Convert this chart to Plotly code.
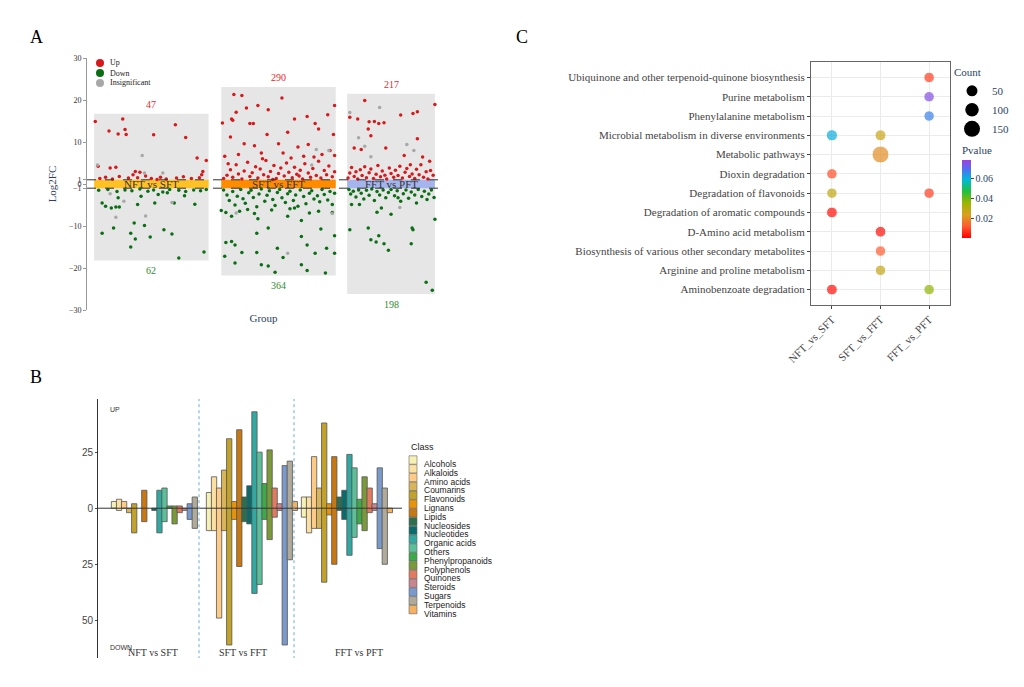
import plotly.graph_objects as go

# ---------------- Panel A: volcano-like groups ----------------
groups = ['NFT vs SFT', 'SFT vs FFT', 'FFT vs PFT']
n_up = [47, 290, 217]
n_down = [62, 364, 198]
box_left = [0.56, 1.56, 2.55]
box_right = [1.46, 2.46, 3.24]
box_top = [16.7, 23.1, 21.5]
box_bottom = [-18.2, -21.8, -26.2]
band_colors = ['#FFC125', '#FF8C00', '#A4B4EC']

# points as [fraction across box, log2FC]
up1 = [[0.01, 14.9], [0.035, 4.2], [0.13, 12.6], [0.21, 11.9], [0.25, 15.5], [0.27, 13], [0.28, 11.8],
       [0.14, 3.8], [0.19, 4], [0.36, 3], [0.34, 2.2], [0.52, 11.7], [0.71, 14.1], [0.8, 11.1], [0.9, 6.2],
       [0.98, 5.6], [0.95, 3], [0.94, 2.2], [0.05, 1.3], [0.1, 1.6], [0.16, 1.2], [0.22, 1.8], [0.3, 1.4],
       [0.38, 1.5], [0.45, 1.9], [0.5, 1.3], [0.58, 1.6], [0.63, 1.2], [0.72, 1.4], [0.78, 1.7], [0.85, 1.3],
       [0.92, 1.5], [0.4, 2.8], [0.55, 1.1]]
down1 = [[0.07, -4.5], [0.1, -5.3], [0.15, -5.7], [0.19, -5.5], [0.22, -5.5], [0.07, -11.7], [0.17, -10.5],
         [0.32, -11.7], [0.35, -9.3], [0.36, -13.1], [0.32, -15], [0.44, -9.9], [0.49, -12.6], [0.61, -10.9],
         [0.68, -11.9], [0.74, -17.6], [0.96, -16.2], [0.38, -4.9], [0.53, -4.5], [0.7, -4.5], [0.88, -4.8],
         [0.41, -2.9], [0.56, -2.5], [0.64, -2.1], [0.79, -2.8], [0.21, -3.3], [0.04, -1.5], [0.12, -1.3],
         [0.2, -1.8], [0.27, -1.4], [0.33, -1.6], [0.4, -1.2], [0.47, -1.7], [0.52, -1.4], [0.6, -1.9],
         [0.66, -1.3], [0.74, -1.5], [0.8, -1.8], [0.87, -1.4], [0.93, -1.6], [0.98, -1.3]]
ins1 = [[0.42, 6.8], [0.19, -7.9], [0.45, -7.6], [0.26, -4.1], [0.03, 4.5], [0.44, 2.6], [0.68, -4.4],
        [0.6, 2.6], [0.14, -2.3]]

up2 = [[0.11, 21.3], [0.18, 21.1], [0.53, 20.5], [0.99, 18.7], [0.32, 18.7], [0.41, 17.7], [0.22, 18.1],
       [0.13, 17.1], [0.09, 15.5], [0.01, 14.5], [0.1, 15.2], [0.25, 14.4], [0.28, 14.4], [0.64, 15.5],
       [0.75, 16.1], [0.82, 14.4], [0.93, 16.5], [0.85, 13.1], [0.58, 12.3], [0.4, 11.8], [0.08, 11.2],
       [0.98, 11.8], [0.2, 9.6], [0.29, 9.1], [0.5, 9.6], [0.67, 8.8], [0.76, 9.4], [0.95, 8], [0.03, 6.6],
       [0.15, 7], [0.35, 7.4], [0.54, 7.4], [0.72, 6.6], [0.88, 7], [0.99, 6.8],
       [0.02, 1.3], [0.05, 2.1], [0.08, 3.4], [0.1, 1.6], [0.13, 4.6], [0.15, 2.4], [0.18, 1.2], [0.2, 3.1],
       [0.23, 5.2], [0.25, 1.8], [0.27, 2.7], [0.3, 4.1], [0.32, 1.4], [0.34, 3.6], [0.37, 2.2], [0.39, 5.6],
       [0.41, 1.7], [0.43, 3], [0.46, 4.4], [0.48, 1.3], [0.5, 2.5], [0.52, 3.8], [0.55, 1.9], [0.57, 5],
       [0.59, 2.8], [0.62, 1.5], [0.64, 4], [0.66, 2.3], [0.69, 3.3], [0.71, 1.2], [0.73, 4.8], [0.76, 2.6],
       [0.78, 1.6], [0.8, 3.7], [0.83, 2], [0.85, 5.4], [0.87, 1.4], [0.9, 3.2], [0.92, 2.2], [0.94, 4.3],
       [0.97, 1.7], [0.99, 2.9], [0.06, 4.8], [0.36, 6], [0.61, 6.2], [0.81, 6.4], [0.45, 1.1], [0.68, 1.9]]
down2 = [[0.0, -6.3], [0.04, -6.8], [0.09, -7.7], [0.32, -8.3], [0.41, -10.5], [0.31, -11.7], [0.04, -13.9],
         [0.09, -13.7], [0.12, -14.5], [0.18, -16.3], [0.31, -16.3], [0.03, -17.2], [0.12, -18.8], [0.35, -19.2],
         [0.41, -19.5], [0.47, -21], [0.54, -17.5], [0.49, -15.3], [0.7, -12.5], [0.75, -14.5], [0.82, -16.5],
         [0.7, -19.2], [0.75, -20.6], [0.91, -21.2], [0.92, -15.3], [0.99, -12.3], [0.99, -16.5], [0.87, -10.7],
         [0.7, -8.7], [0.58, -7.7], [0.23, -6.1], [0.64, -5.7], [0.85, -6.5], [0.97, -6.8],
         [0.02, -1.4], [0.05, -2.6], [0.07, -3.9], [0.1, -1.8], [0.12, -5], [0.14, -2.9], [0.17, -1.3],
         [0.19, -3.5], [0.21, -4.6], [0.24, -2.1], [0.26, -1.5], [0.28, -3.2], [0.31, -5.4], [0.33, -2.4],
         [0.35, -1.2], [0.38, -4.1], [0.4, -2.7], [0.42, -1.6], [0.45, -3.7], [0.47, -5.1], [0.49, -2],
         [0.51, -1.3], [0.53, -3.3], [0.56, -4.4], [0.58, -2.3], [0.6, -1.7], [0.63, -3.9], [0.65, -2.6],
         [0.67, -5.3], [0.69, -1.4], [0.72, -3], [0.74, -4.7], [0.77, -2.2], [0.79, -1.6], [0.81, -3.6],
         [0.84, -2.8], [0.86, -4.2], [0.88, -1.3], [0.9, -2.5], [0.93, -3.8], [0.95, -1.8], [0.97, -4.9],
         [0.99, -2.2], [0.16, -6.5], [0.44, -6.2], [0.77, -6.9], [0.29, -7], [0.6, -5.9]]
ins2 = [[0.13, -6.9], [0.58, -16.5], [0.83, 8.2], [0.94, 8], [0.79, 4.5], [0.97, -7]]

up3 = [[0.2, 19.9], [0.03, 15.9], [0.12, 15.5], [0.25, 14.8], [0.31, 14.9], [0.36, 14.4], [0.42, 14.6],
       [0.24, 13.1], [0.27, 11.5], [0.08, 8.6], [0.16, 8.2], [0.44, 8.6], [0.61, 16.4], [0.75, 16.8],
       [0.8, 17.2], [1.0, 18.9], [0.8, 10.8], [0.65, 6.8], [0.86, 6.4], [0.94, 5.4], [0.72, 4.6],
       [0.01, 1.4], [0.03, 2.6], [0.05, 3.9], [0.08, 1.8], [0.1, 2.9], [0.12, 1.2], [0.15, 3.4], [0.17, 2],
       [0.2, 4.1], [0.22, 1.5], [0.25, 2.7], [0.27, 3.6], [0.3, 1.3], [0.33, 2.3], [0.35, 4.4], [0.38, 1.7],
       [0.4, 3.1], [0.43, 2.1], [0.45, 1.2], [0.48, 3.8], [0.5, 2.5], [0.53, 1.6], [0.55, 3.3], [0.58, 2],
       [0.6, 4.2], [0.63, 1.4], [0.66, 2.8], [0.68, 3.7], [0.71, 1.8], [0.74, 2.4], [0.77, 1.3], [0.79, 3.5],
       [0.82, 2.2], [0.84, 4.6], [0.87, 1.6], [0.9, 2.9], [0.92, 1.2], [0.95, 3.2], [0.98, 2.1]]
down3 = [[0.05, -4.9], [0.14, -4.9], [0.34, -6.7], [0.39, -5.7], [0.5, -7.2], [0.03, -10.9], [0.24, -10.5],
         [0.27, -13.3], [0.33, -13.8], [0.36, -12.3], [0.42, -14.2], [0.47, -15.8], [0.74, -10.5],
         [0.75, -10.9], [0.73, -14.2], [1.0, -8.4], [0.58, -3.3], [0.79, -4.5], [0.91, -3.7], [0.9, -23.4],
         [0.97, -25.3], [0.02, -1.3], [0.04, -2.4], [0.07, -1.7], [0.1, -3.1], [0.13, -1.4], [0.16, -2.2],
         [0.19, -3.6], [0.22, -1.5], [0.25, -2.7], [0.28, -1.2], [0.31, -3.9], [0.34, -1.8], [0.37, -2.6],
         [0.41, -1.4], [0.44, -3.3], [0.47, -2], [0.5, -1.3], [0.54, -2.8], [0.57, -1.6], [0.61, -4.1],
         [0.64, -2.3], [0.67, -1.4], [0.7, -3.4], [0.73, -1.9], [0.77, -2.6], [0.81, -1.3], [0.85, -3],
         [0.88, -1.7], [0.93, -2.4], [0.96, -1.4], [0.99, -3.2]]
ins3 = [[0.03, 17], [0.37, 18.2], [0.13, 11], [0.2, 9], [0.27, 6.5], [0.68, 9.4], [0.6, -5.6], [0.76, 8]]

up_pts = [up1, up2, up3]
down_pts = [down1, down2, down3]
ins_pts = [ins1, ins2, ins3]

# ---------------- Panel B: class bars ----------------
classes = ['Alcohols', 'Alkaloids', 'Amino acids', 'Coumarins', 'Flavonoids', 'Lignans', 'Lipids',
           'Nucleosides', 'Nucleotides', 'Organic acids', 'Others', 'Phenylpropanoids', 'Polyphenols',
           'Quinones', 'Steroids', 'Sugars', 'Terpenoids', 'Vitamins']
class_colors = ['#F7F0B5', '#FBE0A2', '#FDCB85', '#D8B45A', '#C2A22A', '#E8940A', '#C87812',
                '#2E6E4E', '#0B6B6B', '#33A8A0', '#5DBE9A', '#3EA84A', '#7A9A3A', '#E07A60',
                '#C9848E', '#7A9ACC', '#AFAA9A', '#F5B060']
class_up = [
    [3, 4, 3, 0, 2, 0, 8, 0, 0, 8, 9, 1, 1, 1, 0, 2, 5, 0],
    [7, 14, 9, 17, 31, 3, 35, 5, 10, 43, 25, 11, 26, 9, 2, 19, 21, 3],
    [5, 5, 23, 9, 38, 2, 23, 5, 8, 24, 18, 4, 14, 9, 2, 18, 9, 0],
]
class_down = [
    [0, 1, 0, 2, 11, 0, 6, 0, 1, 11, 6, 0, 7, 2, 1, 5, 9, 0],
    [10, 10, 49, 10, 61, 5, 26, 6, 7, 38, 34, 5, 14, 4, 1, 61, 23, 1],
    [4, 11, 9, 9, 33, 3, 25, 1, 5, 21, 13, 7, 10, 2, 1, 18, 25, 2],
]

# ---------------- Panel C: KEGG bubbles ----------------
pathways = ['Ubiquinone and other terpenoid-quinone biosynthesis', 'Purine metabolism',
            'Phenylalanine metabolism', 'Microbial metabolism in diverse environments',
            'Metabolic pathways', 'Dioxin degradation', 'Degradation of flavonoids',
            'Degradation of aromatic compounds', 'D-Amino acid metabolism',
            'Biosynthesis of various other secondary metabolites', 'Arginine and proline metabolism',
            'Aminobenzoate degradation']
comparisons = ['NFT_vs_SFT', 'SFT_vs_FFT', 'FFT_vs_PFT']
kegg_path = ['Ubiquinone and other terpenoid-quinone biosynthesis', 'Purine metabolism',
             'Phenylalanine metabolism', 'Microbial metabolism in diverse environments',
             'Microbial metabolism in diverse environments', 'Metabolic pathways', 'Dioxin degradation',
             'Degradation of flavonoids', 'Degradation of flavonoids', 'Degradation of aromatic compounds',
             'D-Amino acid metabolism', 'Biosynthesis of various other secondary metabolites',
             'Arginine and proline metabolism', 'Aminobenzoate degradation', 'Aminobenzoate degradation']
kegg_comp = ['FFT_vs_PFT', 'FFT_vs_PFT', 'FFT_vs_PFT', 'NFT_vs_SFT', 'SFT_vs_FFT', 'SFT_vs_FFT',
             'NFT_vs_SFT', 'NFT_vs_SFT', 'FFT_vs_PFT', 'NFT_vs_SFT', 'SFT_vs_FFT', 'SFT_vs_FFT',
             'SFT_vs_FFT', 'NFT_vs_SFT', 'FFT_vs_PFT']
kegg_count = [40, 40, 40, 55, 50, 170, 40, 40, 40, 45, 45, 40, 40, 45, 40]
kegg_p = [0.008, 0.075, 0.066, 0.060, 0.026, 0.020, 0.010, 0.028, 0.008, 0.002, 0.002, 0.012,
          0.027, 0.002, 0.036]
legend_counts = [50, 100, 150]

serif = 'Liberation Serif'
sans = 'Liberation Sans'
# the page adds an 8px body margin; size the figure to fit inside the window
OFF = 8
W, H = 1024 - 2 * OFF, 687 - 2 * OFF


def bubble_size(c):
    return 8.5 + c * 0.05


def px(x):
    return (x - OFF) / W


def py(y):
    return 1 - (y - OFF) / H


fig = go.Figure()
shapes = []
annos = []

# ---- A ----
for g in range(3):
    shapes.append(dict(type='rect', xref='x', yref='y', x0=box_left[g], x1=box_right[g],
                       y0=box_bottom[g], y1=box_top[g], fillcolor='#E6E6E6', line_width=0, layer='below'))
    shapes.append(dict(type='rect', xref='x', yref='y', x0=box_left[g], x1=box_right[g],
                       y0=-1, y1=1, fillcolor=band_colors[g], line_width=0, layer='below'))
    cx = (box_left[g] + box_right[g]) / 2
    annos.append(dict(x=cx, y=0, xref='x', yref='y', text=groups[g], showarrow=False,
                      font=dict(family=serif, size=11, color='#333')))
    annos.append(dict(x=cx, y=box_top[g], xref='x', yref='y', text=str(n_up[g]), showarrow=False,
                      yshift=9, font=dict(family=serif, size=10, color='#E8292B')))
    annos.append(dict(x=cx, y=box_bottom[g], xref='x', yref='y', text=str(n_down[g]), showarrow=False,
                      yshift=-10, font=dict(family=serif, size=10, color='#2E8B2E')))

status = [('Up', up_pts, '#D7191C'), ('Down', down_pts, '#0A6E14'), ('Insignificant', ins_pts, '#A8A8A8')]
for k, (name, pts, col) in enumerate(status):
    xs, ys = [], []
    for g in range(3):
        for f, v in pts[g]:
            xs.append(box_left[g] + f * (box_right[g] - box_left[g]))
            ys.append(v)
    fig.add_trace(go.Scatter(x=xs, y=ys, mode='markers', name=name, xaxis='x', yaxis='y',
                             showlegend=False, marker=dict(size=3.5, color=col)))
    # manual legend key
    ly = 63 + k * 10
    shapes.append(dict(type='circle', xref='paper', yref='paper', x0=px(96), x1=px(104),
                       y0=py(ly + 4), y1=py(ly - 4), fillcolor=col, line_width=0))
    annos.append(dict(x=px(108), y=py(ly), xref='paper', yref='paper', text=name, showarrow=False,
                      xanchor='left', yanchor='middle', font=dict(family=serif, size=8, color='#222')))

for yv in [-1, 1]:
    shapes.append(dict(type='line', xref='x', yref='y', x0=0.504, x1=3.28, y0=yv, y1=yv,
                       line=dict(color='#333', width=1, dash='dash')))

# ---- B ----
bar_start = 114
group_step = 95
class_step = 5.05
for i, cls in enumerate(classes):
    xs, bases, heights = [], [], []
    for g in range(3):
        if class_up[g][i] == 0 and class_down[g][i] == 0:
            continue
        xs.append(bar_start + g * group_step + i * class_step)
        bases.append(-class_down[g][i])
        heights.append(class_up[g][i] + class_down[g][i])
    fig.add_trace(go.Bar(x=xs, y=heights, base=bases, width=5.3, name=cls, xaxis='x2', yaxis='y2',
                         showlegend=False,
                         marker=dict(color=class_colors[i], line=dict(color='#555', width=0.8))))
    # manual legend key
    ly = 460 + i * 8.8
    shapes.append(dict(type='rect', xref='paper', yref='paper', x0=px(409), x1=px(417),
                       y0=py(ly + 4.2), y1=py(ly - 4.2), fillcolor=class_colors[i],
                       line=dict(color='#666', width=0.6)))
    annos.append(dict(x=px(423), y=py(ly), xref='paper', yref='paper', text=cls, showarrow=False,
                      xanchor='left', yanchor='middle', yshift=-4, borderpad=0,
                      font=dict(family=sans, size=8.5, color='#222')))
annos.append(dict(x=px(409), y=py(447), xref='paper', yref='paper', text='Class', showarrow=False,
                  xanchor='left', font=dict(family=sans, size=9, color='#222')))

shapes.append(dict(type='line', xref='x2', yref='y2', x0=98, x1=402, y0=0, y1=0,
                   line=dict(color='#333', width=1)))
for g in [1, 2]:
    xd = bar_start + g * group_step - 10
    shapes.append(dict(type='line', xref='x2', yref='y2', x0=xd, x1=xd, y0=-70, y1=48.7,
                       line=dict(color='#6BAED6', width=1, dash='dot')))
for xc, lab in zip([153, 243, 359], groups):
    annos.append(dict(x=xc, y=py(660), xref='x2', yref='paper', text=lab, showarrow=False,
                      font=dict(family=serif, size=10, color='#333')))
annos.append(dict(x=108, y=44, xref='x2', yref='y2', text='UP', showarrow=False, xanchor='left',
                  font=dict(family=sans, size=7, color='#333')))
annos.append(dict(x=108, y=-62, xref='x2', yref='y2', text='DOWN', showarrow=False, xanchor='left',
                  font=dict(family=sans, size=7, color='#333')))

# ---- C ----
fig.add_trace(go.Scatter(x=kegg_comp, y=kegg_path, mode='markers', xaxis='x3', yaxis='y3',
                         showlegend=False,
                         marker=dict(size=[bubble_size(c) for c in kegg_count], color=kegg_p,
                                     cmin=0, cmax=0.078,
                                     colorscale=[[0, '#FF0000'], [0.15, '#FF5A30'], [0.3, '#D8A020'],
                                                 [0.45, '#9CB400'], [0.6, '#20C040'], [0.75, '#00B8D8'],
                                                 [0.88, '#5070F0'], [1, '#A040E0']],
                                     colorbar=dict(title=dict(text='Pvalue', font=dict(family=serif, size=11)),
                                                   x=px(952), xanchor='left', y=py(143), yanchor='top',
                                                   len=95, lenmode='pixels', thickness=9,
                                                   tickvals=[0.02, 0.04, 0.06], ticks='outside', ticklen=3,
                                                   tickfont=dict(family=serif, size=10), outlinewidth=0,
                                                   ypad=0))))
for c in legend_counts:
    fig.add_trace(go.Scatter(x=[None], y=[None], mode='markers', name=str(c), legend='legend',
                             xaxis='x3', yaxis='y3', marker=dict(size=bubble_size(c), color='black')))

for lab, xp, yp in [('A', 28, 25), ('B', 28, 377), ('C', 522, 25)]:
    annos.append(dict(x=px(xp), y=py(yp), xref='paper', yref='paper', text=lab, showarrow=False,
                      font=dict(family=serif, size=18, color='black')))

fig.update_layout(
    width=W, height=H, plot_bgcolor='white', paper_bgcolor='white',
    margin=dict(l=0, r=0, t=0, b=0, autoexpand=False), barmode='overlay', shapes=shapes, annotations=annos,
    xaxis=dict(domain=[px(87), px(440)], anchor='y', range=[0.504, 3.28], showticklabels=False,
               showgrid=False, zeroline=False, automargin=False,
               title=dict(text='Group', font=dict(family=serif, size=11), standoff=4)),
    yaxis=dict(domain=[py(310), py(58)], anchor='x', range=[-30, 30], automargin=False,
               tickvals=[-30, -20, -10, -1, 0, 1, 10, 20, 30],
               showgrid=False, zeroline=False, showline=True, linecolor='#999', ticks='outside', ticklen=3,
               tickcolor='#999', tickfont=dict(family=serif, size=8, color='#333'),
               title=dict(text='Log2FC', font=dict(family=serif, size=11), standoff=10)),
    xaxis2=dict(domain=[px(98), px(402)], anchor='y2', range=[98, 402], showticklabels=False,
                showgrid=False, zeroline=False, automargin=False),
    yaxis2=dict(domain=[py(658), py(399)], anchor='x2', range=[-66.8, 48.7], tickvals=[-50, -25, 0, 25],
                ticktext=['50', '25', '0', '25'], showgrid=False, zeroline=False, showline=True,
                linecolor='#333', ticks='outside', ticklen=2, automargin=False,
                tickfont=dict(family=sans, size=10, color='#444')),
    xaxis3=dict(domain=[px(811), px(950)], anchor='y3', type='category', categoryarray=comparisons,
                range=[-0.43, 2.43], showgrid=True, gridcolor='#EBEBEB', showline=True, mirror=True,
                linecolor='#666', ticks='outside', ticklen=3, tickangle=-45, automargin=False,
                tickfont=dict(family=serif, size=11, color='#444')),
    yaxis3=dict(domain=[py(305), py(62)], anchor='x3', type='category', categoryarray=pathways[::-1],
                range=[-0.8, 11.8], showgrid=True, gridcolor='#EBEBEB', showline=True, mirror=True,
                linecolor='#666', ticks='outside', ticklen=3, automargin=False,
                tickfont=dict(family=serif, size=11, color='#444')),
    legend=dict(x=px(952), y=py(62), xanchor='left', yanchor='top', bgcolor='rgba(0,0,0,0)',
                title=dict(text='Count', font=dict(family=serif, size=11)),
                font=dict(family=serif, size=11), itemsizing='trace', itemwidth=30),
)

fig.write_html("out.html")
